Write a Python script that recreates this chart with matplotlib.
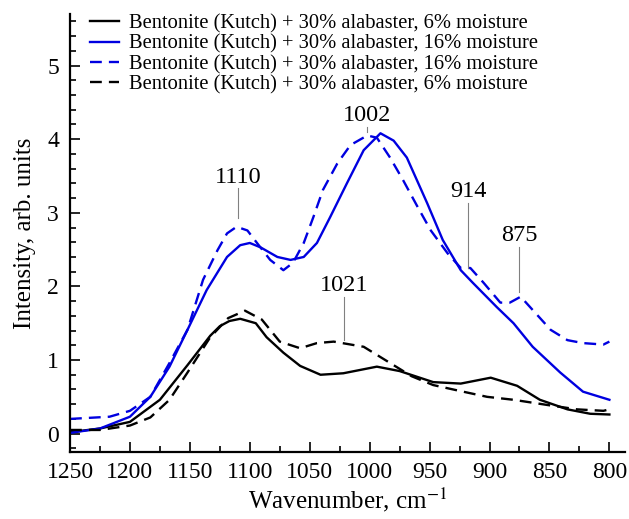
import matplotlib.pyplot as plt
from matplotlib.ticker import MultipleLocator

plt.rcParams['font.family'] = ['Liberation Serif', 'DejaVu Serif']
plt.rcParams['mathtext.fontset'] = 'stix'

# black solid: 6% moisture
k6_x = [1250, 1225, 1200, 1175, 1152, 1133, 1125, 1117, 1108, 1095, 1086, 1072, 1058, 1041,
        1022, 994, 975, 947, 924, 899, 877, 858, 835, 816, 800]
k6_y = [0.02, 0.07, 0.16, 0.46, 0.93, 1.33, 1.46, 1.53, 1.56, 1.50, 1.31, 1.10, 0.92, 0.80,
        0.82, 0.91, 0.85, 0.70, 0.68, 0.76, 0.65, 0.46, 0.33, 0.27, 0.26]

# blue solid: 16% moisture
b16_x = [1250, 1225, 1200, 1183, 1167, 1152, 1136, 1119, 1108, 1100, 1091, 1077, 1066, 1055,
         1044, 1033, 1019, 1005, 991, 980, 969, 952, 939, 924, 914, 894, 880, 864, 841, 822, 800]
b16_y = [0.01, 0.07, 0.23, 0.50, 0.91, 1.41, 1.95, 2.40, 2.56, 2.59, 2.53, 2.40, 2.36, 2.40,
         2.59, 2.94, 3.40, 3.85, 4.08, 3.98, 3.75, 3.13, 2.63, 2.22, 2.05, 1.72, 1.50, 1.18,
         0.83, 0.57, 0.46]

# blue dashed: 16% moisture
b16d_x = [1250, 1217, 1200, 1183, 1167, 1152, 1139, 1127, 1119, 1111, 1102, 1094, 1083, 1072,
          1064, 1055, 1047, 1039, 1027, 1016, 1002, 994, 983, 972, 960, 949, 935, 924, 916,
          905, 891, 883, 874, 864, 849, 835, 822, 805, 800]
b16d_y = [0.20, 0.23, 0.31, 0.50, 0.96, 1.41, 2.09, 2.49, 2.72, 2.81, 2.76, 2.59, 2.36, 2.22,
          2.32, 2.59, 2.94, 3.31, 3.67, 3.92, 4.05, 4.02, 3.75, 3.44, 3.08, 2.76, 2.45, 2.25,
          2.25, 2.05, 1.78, 1.78, 1.86, 1.68, 1.41, 1.27, 1.23, 1.21, 1.25]

# black dashed: 6% moisture
k6d_x = [1250, 1225, 1200, 1183, 1167, 1152, 1133, 1118, 1104, 1090, 1075, 1058, 1044, 1030,
         1005, 998, 983, 965, 947, 922, 902, 880, 852, 827, 805, 800]
k6d_y = [0.05, 0.05, 0.11, 0.22, 0.46, 0.83, 1.31, 1.57, 1.67, 1.55, 1.25, 1.16, 1.23, 1.25,
         1.18, 1.11, 0.96, 0.78, 0.66, 0.57, 0.50, 0.46, 0.39, 0.33, 0.31, 0.33]

labels = [
    "Bentonite (Kutch) + 30% alabaster, 6% moisture",
    "Bentonite (Kutch) + 30% alabaster, 16% moisture",
    "Bentonite (Kutch) + 30% alabaster, 16% moisture",
    "Bentonite (Kutch) + 30% alabaster, 6% moisture",
]

# peak marks: wavenumber, line bottom, line top, label
peak_wn = [1110, 1002, 918, 875, 1021]
peak_lo = [2.93, 4.10, 2.25, 1.92, 1.27]
peak_hi = [3.33, 4.17, 3.13, 2.53, 1.86]
peak_txt = ["1110", "1002", "914", "875", "1021"]

fig = plt.figure(figsize=(6.29, 5.19), dpi=100)
ax = fig.add_axes([0.1113, 0.129, 0.8823, 0.844])

dash = (0, (5, 3))
blue = '#0000e0'
ax.plot(k6_x, k6_y, color='black', lw=1.7, label=labels[0])
ax.plot(b16_x, b16_y, color=blue, lw=1.7, label=labels[1])
ax.plot(b16d_x, b16d_y, color=blue, lw=1.7, ls=dash, label=labels[2])
ax.plot(k6d_x, k6d_y, color='black', lw=1.7, ls=dash, label=labels[3])

for wn, lo, hi, txt in zip(peak_wn, peak_lo, peak_hi, peak_txt):
    ax.plot([wn, wn], [lo, hi], color='#808080', lw=0.8)
    ax.text(wn, hi + 0.08, txt, ha='center', va='baseline', fontsize=17.5)

ax.set_xlim(1250, 787)
ax.set_ylim(-0.25, 5.7)
ax.xaxis.set_major_locator(MultipleLocator(50))
ax.xaxis.set_minor_locator(MultipleLocator(25))
ax.yaxis.set_major_locator(MultipleLocator(1))
ax.yaxis.set_minor_locator(MultipleLocator(0.2))
ax.tick_params(which='both', direction='in', labelsize=17, width=1.2)
ax.tick_params(which='major', length=7)
ax.tick_params(which='minor', length=4)
ax.tick_params(axis='x', pad=7)
ax.tick_params(axis='y', pad=8)
for side in ('top', 'right'):
    ax.spines[side].set_visible(False)
for side in ('left', 'bottom'):
    ax.spines[side].set_linewidth(1.6)

ax.set_xlabel("Wavenumber, cm$^{-1}$", fontsize=18, labelpad=2)
ax.set_ylabel("Intensity, arb. units", fontsize=18, labelpad=8)

ax.legend(loc='upper left', bbox_to_anchor=(0.036, 1.0), frameon=False, fontsize=14.8,
          handlelength=1.4, labelspacing=0.05, borderpad=0, borderaxespad=0,
          handletextpad=0.5)

fig.savefig("out.png", dpi=100)
